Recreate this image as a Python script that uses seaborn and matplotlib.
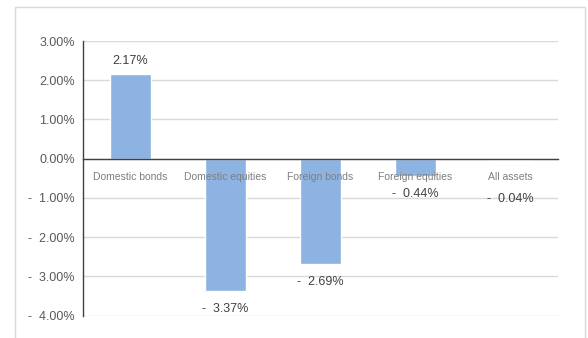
import matplotlib
matplotlib.use("Agg")
import matplotlib.pyplot as plt
from matplotlib.patches import Rectangle
from matplotlib.ticker import FuncFormatter, FixedLocator
import seaborn as sns
import pandas as pd

categories = ["Domestic bonds", "Domestic equities", "Foreign bonds", "Foreign equities", "All assets"]
returns_pct = [2.17, -3.37, -2.69, -0.44, -0.04]
y_ticks = [3, 2, 1, 0, -1, -2, -3, -4]

sns.set_style("white")
plt.rcParams['font.family'] = ['Liberation Sans', 'DejaVu Sans']

df = pd.DataFrame({"category": categories, "ret": returns_pct})

fig = plt.figure(figsize=(5.88, 3.38), dpi=100)
ax = fig.add_axes([83/588, 1 - 315.5/338, (558 - 83)/588, (315.5 - 41)/338])

sns.barplot(data=df, x="category", y="ret", color="#8DB3E2", saturation=1,
            width=0.43, ax=ax, zorder=2)

ax.set_ylim(-4, 3)
ax.set_xlim(-0.5, len(categories) - 0.5)
ax.yaxis.set_major_locator(FixedLocator(y_ticks))

def fmt(v, pos=None):
    if v < -1e-9:
        return "-  %.2f%%" % abs(v)
    return "%.2f%%" % v

ax.yaxis.set_major_formatter(FuncFormatter(fmt))
ax.grid(axis="y", color="#D9D9D9", linewidth=1, zorder=0)
ax.set_axisbelow(True)

for s in ["top", "right"]:
    ax.spines[s].set_visible(False)
ax.spines["left"].set_color("#404040")
ax.spines["left"].set_linewidth(1)
ax.spines["bottom"].set_position(("data", 0))
ax.spines["bottom"].set_color("#404040")
ax.spines["bottom"].set_linewidth(1)
ax.spines["bottom"].set_zorder(3)

ax.set_xlabel("")
ax.set_ylabel("")
ax.tick_params(axis="y", direction="in", length=3, width=1, color="#404040",
               labelsize=9, labelcolor="#595959", pad=6)
ax.tick_params(axis="x", which="major", length=0, labelbottom=False)
ax.xaxis.set_minor_locator(FixedLocator([i + 0.5 for i in range(len(categories))]))
ax.tick_params(axis="x", which="minor", direction="in", length=3, width=1, color="#404040")

# category labels drawn on top of bars, just below the zero line
for i, name in enumerate(categories):
    ax.annotate(name, xy=(i, 0), xytext=(0, -13), textcoords="offset points",
                ha="center", va="center", fontsize=7.5, color="#7F7F7F", zorder=6)

extra_offsets = [0, 0, 0, 0, -15]
for i, v in enumerate(returns_pct):
    off = 9 if v >= 0 else -13 + extra_offsets[i]
    ax.annotate(fmt(v), xy=(i, v), xytext=(0, off), textcoords="offset points",
                ha="center", va="center", fontsize=9, color="#404040", zorder=6)

fig.add_artist(Rectangle((15/588, -0.1), (585 - 15)/588, 1.1 - 7/338,
                         transform=fig.transFigure, fill=False,
                         edgecolor="#D9D9D9", linewidth=1))

fig.savefig("out.png", dpi=100)
